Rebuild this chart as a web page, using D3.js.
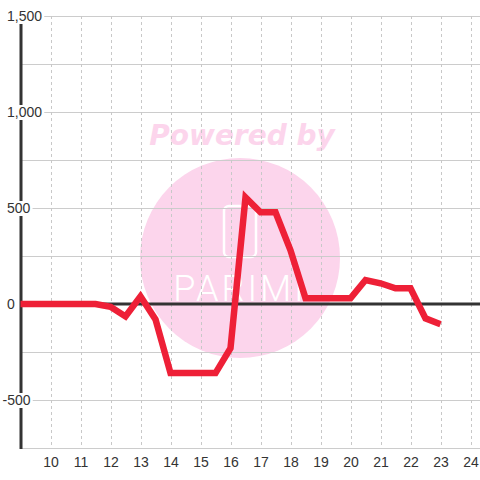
<!DOCTYPE html>
<html><head><meta charset="utf-8">
<script src="https://cdn.jsdelivr.net/npm/d3@7"></script>
<style>html,body{margin:0;padding:0;background:#fff;}svg{display:block;font-family:"Liberation Sans",Arial,sans-serif;}</style>
</head><body>
<svg id="c" width="480" height="480"></svg>
<script>
const hours = [9,9.5,10,10.5,11,11.5,12,12.5,13,13.5,14,14.5,15,15.5,16,16.5,17,17.5,18,18.5,19,19.5,20,20.5,21,21.5,22,22.5,23];
const values = [0,0,0,0,0,0,-15,-65,40,-80,-360,-360,-360,-360,-230,555,478,478,280,30,30,30,30,125,108,82,82,-75,-105];
const xTicks = [10,11,12,13,14,15,16,17,18,19,20,21,22,23,24];
const yLabelTicks = [1500,1000,500,0,-500];
const yGridTicks = [1500,1250,1000,750,500,250,-250,-500,-750];

const svg = d3.select("#c");
const x = d3.scaleLinear().domain([9, 24.3333]).range([20.5, 480.5]);
const y = d3.scaleLinear().domain([-750, 1500]).range([448, 16]);

// watermark
const wm = svg.append("g");
wm.append("circle").attr("cx", 240).attr("cy", 258).attr("r", 100).attr("fill", "#fcd5ec");
wm.append("text").attr("x", 242).attr("y", 145).attr("text-anchor", "middle")
  .attr("font-family", "DejaVu Sans").attr("font-weight", "bold").attr("font-style", "italic")
  .attr("font-size", 28).attr("fill", "#fcd5ec").text("Powered by");
wm.append("rect").attr("x", 224).attr("y", 206).attr("width", 32).attr("height", 51).attr("rx", 5)
  .attr("fill", "none").attr("stroke", "#fff").attr("stroke-width", 2.5);
wm.append("text").attr("x", 240).attr("y", 301).attr("text-anchor", "middle")
  .attr("font-family", "Roboto").attr("font-weight", 300).attr("font-size", 36).attr("letter-spacing", 3)
  .attr("fill", "#fff").text("PARIMI");

// grid
const grid = svg.append("g");
grid.selectAll("line.h").data(yGridTicks).join("line").attr("class","h")
  .attr("x1", 21).attr("x2", 480).attr("y1", d => y(d)+0.5).attr("y2", d => y(d)+0.5)
  .attr("stroke", "#cccccc").attr("stroke-width", 1);
grid.selectAll("line.v").data(xTicks).join("line").attr("class","v")
  .attr("x1", d => Math.round(x(d))+0.5).attr("x2", d => Math.round(x(d))+0.5).attr("y1", 16).attr("y2", 448)
  .attr("stroke", "#c8c8c8").attr("stroke-width", 1).attr("stroke-dasharray", "3,3");

// zero line and y axis line
svg.append("line").attr("x1", 21).attr("x2", 480).attr("y1", y(0)).attr("y2", y(0))
  .attr("stroke", "#333").attr("stroke-width", 3);
svg.append("line").attr("x1", 21).attr("x2", 21).attr("y1", 16).attr("y2", 449)
  .attr("stroke", "#333").attr("stroke-width", 3);

// y labels with white background
const fmt = d => d3.format(",")(d).replace("\u2212", "-");
const yl = svg.append("g").selectAll("g").data(yLabelTicks).join("g");
yl.each(function(d){
  const g = d3.select(this);
  const t = g.append("text").attr("x", d < 0 ? 2.5 : 7).attr("y", y(d)).attr("dy", "0.35em")
    .attr("font-size", 14).attr("fill", "#333").text(fmt(d));
  const b = t.node().getBBox();
  g.insert("rect", "text").attr("x", b.x - 1).attr("y", y(d) - 7).attr("width", b.width + 3).attr("height", 15).attr("fill", "#fff");
});

// x axis labels
const xAxis = d3.axisBottom(x).tickValues(xTicks).tickSize(0).tickPadding(0).tickFormat(d3.format("d"));
const xa = svg.append("g").attr("transform", "translate(0,457)").call(xAxis);
xa.select(".domain").remove();
xa.selectAll("text").attr("font-size", 14).attr("fill", "#333").attr("font-family", "Liberation Sans, Arial, sans-serif");

// line
const line = d3.line().x((d,i) => x(hours[i])).y(d => y(d));
svg.append("path").datum(values).attr("d", line).attr("fill", "none")
  .attr("stroke", "#ee2037").attr("stroke-width", 6.5).attr("stroke-linejoin", "miter");
</script>
</body></html>
